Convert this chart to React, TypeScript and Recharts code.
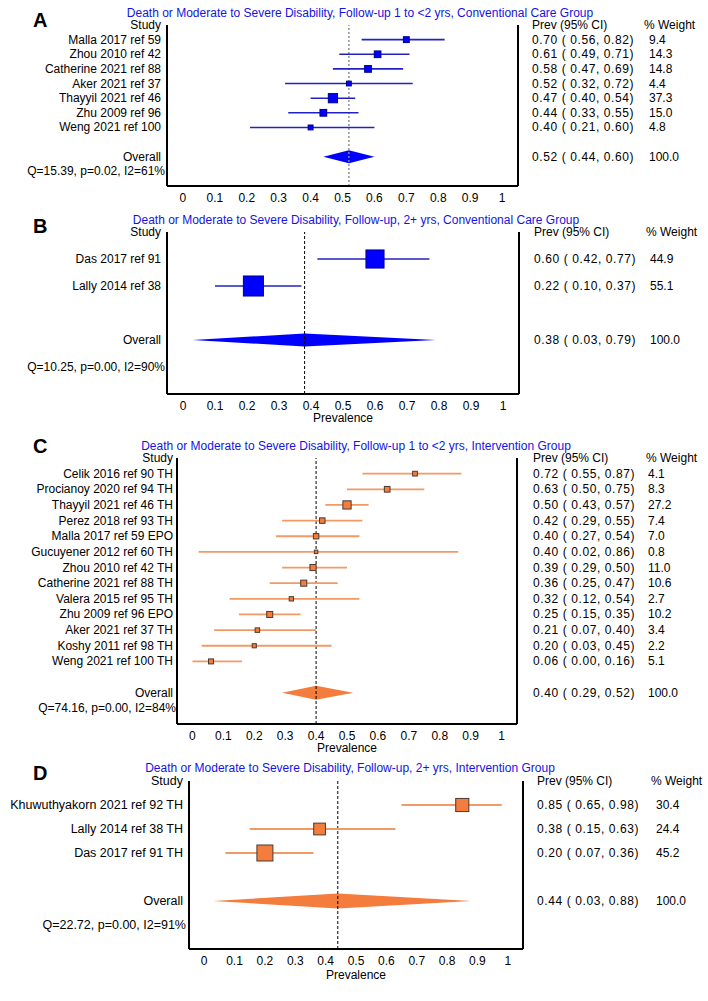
import React from "react";
import { ScatterChart, Scatter, XAxis, YAxis, ReferenceLine, ReferenceArea, ErrorBar } from "recharts";

const FONT = '"Liberation Sans", Arial, Helvetica, sans-serif';

// A: follow-up 1 to <2 yrs, conventional care
const studiesA = ["Malla 2017 ref 59", "Zhou 2010 ref 42", "Catherine 2021 ref 88", "Aker 2021 ref 37", "Thayyil 2021 ref 46", "Zhu 2009 ref 96", "Weng 2021 ref 100"];
const prevA = [0.7, 0.61, 0.58, 0.52, 0.47, 0.44, 0.4];
const loA = [0.56, 0.49, 0.47, 0.32, 0.4, 0.33, 0.21];
const hiA = [0.82, 0.71, 0.69, 0.72, 0.54, 0.55, 0.6];
const weightA = [9.4, 14.3, 14.8, 4.4, 37.3, 15.0, 4.8];
const overallA = [0.52, 0.44, 0.6];
const qA = "Q=15.39, p=0.02, I2=61%";

// B: follow-up 2+ yrs, conventional care
const studiesB = ["Das 2017 ref 91", "Lally 2014 ref 38"];
const prevB = [0.6, 0.22];
const loB = [0.42, 0.1];
const hiB = [0.77, 0.37];
const weightB = [44.9, 55.1];
const overallB = [0.38, 0.03, 0.79];
const qB = "Q=10.25, p=0.00, I2=90%";

// C: follow-up 1 to <2 yrs, intervention
const studiesC = [
  "Celik 2016 ref 90 TH", "Procianoy 2020 ref 94 TH", "Thayyil 2021 ref 46 TH", "Perez 2018 ref 93 TH",
  "Malla 2017 ref 59 EPO", "Gucuyener 2012 ref 60 TH", "Zhou 2010 ref 42 TH", "Catherine 2021 ref 88 TH",
  "Valera 2015 ref 95 TH", "Zhu 2009 ref 96 EPO", "Aker 2021 ref 37 TH", "Koshy 2011 ref 98 TH", "Weng 2021 ref 100 TH",
];
const prevC = [0.72, 0.63, 0.5, 0.42, 0.4, 0.4, 0.39, 0.36, 0.32, 0.25, 0.21, 0.2, 0.06];
const loC = [0.55, 0.5, 0.43, 0.29, 0.27, 0.02, 0.29, 0.25, 0.12, 0.15, 0.07, 0.03, 0.0];
const hiC = [0.87, 0.75, 0.57, 0.55, 0.54, 0.86, 0.5, 0.47, 0.54, 0.35, 0.4, 0.45, 0.16];
const weightC = [4.1, 8.3, 27.2, 7.4, 7.0, 0.8, 11.0, 10.6, 2.7, 10.2, 3.4, 2.2, 5.1];
const overallC = [0.4, 0.29, 0.52];
const qC = "Q=74.16, p=0.00, I2=84%";

// D: follow-up 2+ yrs, intervention
const studiesD = ["Khuwuthyakorn 2021 ref 92 TH", "Lally 2014 ref 38 TH", "Das 2017 ref 91 TH"];
const prevD = [0.85, 0.38, 0.2];
const loD = [0.65, 0.15, 0.07];
const hiD = [0.98, 0.63, 0.36];
const weightD = [30.4, 24.4, 45.2];
const overallD = [0.44, 0.03, 0.88];
const qD = "Q=22.72, p=0.00, I2=91%";

const X_TICKS = [0, 0.1, 0.2, 0.3, 0.4, 0.5, 0.6, 0.7, 0.8, 0.9, 1];

const BLUE = { marker: "#0000ff", edge: "#00008b", ci: "#2222c4", diamond: "#0000ff" };
const ORANGE = { marker: "#f47c3c", edge: "#4a3a34", ci: "#f19a66", diamond: "#f47c3c" };

type Panel = {
  letter: string; title: string; studies: string[]; prev: number[]; lo: number[]; hi: number[];
  weight: number[]; overall: number[]; q: string;
  chartTop: number; plotTop: number; plotBottom: number; chartH: number;
  frameL: number; frameR: number; yMax: number; overallRow: number; qRow: number;
  ciOff: number; wOff: number; hdrWOff: number; labelGap: number; qGap: number;
  xLabel: boolean; labelOffset: number; colors: typeof BLUE; size: (w: number) => number;
  ciWidth: number; dHalf: number; refStroke: string; refDash: string; refWidth: number;
  titleX: number; titleY: number; letterY: number; fs: number;
};

const panels: Panel[] = [
  {
    letter: "A", title: "Death or Moderate to Severe Disability, Follow-up 1 to <2 yrs, Conventional Care Group",
    studies: studiesA, prev: prevA, lo: loA, hi: hiA, weight: weightA, overall: overallA, q: qA,
    chartTop: 0, plotTop: 25, plotBottom: 186, chartH: 208, frameL: 167, frameR: 518,
    yMax: 11, overallRow: 9, qRow: 10, ciOff: 14, wOff: 131, hdrWOff: 126, labelGap: 6, qGap: 2,
    xLabel: false, labelOffset: 0, colors: BLUE, size: (w) => 1.1 * Math.sqrt(w) + 2.5,
    ciWidth: 1.6, dHalf: 6.5, refStroke: "#8a8a8a", refDash: "2 2", refWidth: 1.4,
    titleX: 360, titleY: 13, letterY: 20, fs: 12,
  },
  {
    letter: "B", title: "Death or Moderate to Severe Disability, Follow-up, 2+ yrs, Conventional Care Group",
    studies: studiesB, prev: prevB, lo: loB, hi: hiB, weight: weightB, overall: overallB, q: qB,
    chartTop: 210, plotTop: 232, plotBottom: 394, chartH: 214, frameL: 167, frameR: 519,
    yMax: 6, overallRow: 4, qRow: 5, ciOff: 15, wOff: 131, hdrWOff: 127, labelGap: 6, qGap: 2,
    xLabel: true, labelOffset: 2, colors: BLUE, size: (w) => 2.7 * Math.sqrt(w),
    ciWidth: 1.4, dHalf: 6.5, refStroke: "#000", refDash: "3 2", refWidth: 1,
    titleX: 356, titleY: 220, letterY: 226, fs: 12,
  },
  {
    letter: "C", title: "Death or Moderate to Severe Disability, Follow-up 1 to <2 yrs, Intervention Group",
    studies: studiesC, prev: prevC, lo: loC, hi: hiC, weight: weightC, overall: overallC, q: qC,
    chartTop: 425, plotTop: 458, plotBottom: 724, chartH: 327, frameL: 177, frameR: 517,
    yMax: 17, overallRow: 15, qRow: 16, ciOff: 16, wOff: 131, hdrWOff: 129, labelGap: 4, qGap: 1,
    xLabel: true, labelOffset: 0, colors: ORANGE, size: (w) => 1.1 * Math.sqrt(w) + 2.5,
    ciWidth: 1.8, dHalf: 7, refStroke: "#000", refDash: "3 2", refWidth: 1,
    titleX: 356, titleY: 446, letterY: 446, fs: 12,
  },
  {
    letter: "D", title: "Death or Moderate to Severe Disability, Follow-up, 2+ yrs, Intervention Group",
    studies: studiesD, prev: prevD, lo: loD, hi: hiD, weight: weightD, overall: overallD, q: qD,
    chartTop: 755, plotTop: 781, plotBottom: 949, chartH: 228, frameL: 189, frameR: 523,
    yMax: 7, overallRow: 5, qRow: 6, ciOff: 14, wOff: 133, hdrWOff: 128, labelGap: 6, qGap: 3,
    xLabel: true, labelOffset: 4, colors: ORANGE, size: (w) => 2.38 * Math.sqrt(w),
    ciWidth: 1.8, dHalf: 7.5, refStroke: "#000", refDash: "3 2", refWidth: 1,
    titleX: 350, titleY: 768, letterY: 773, fs: 12.5,
  },
];

const ciText = (e: number, l: number, h: number) => `${e.toFixed(2)} ( ${l.toFixed(2)}, ${h.toFixed(2)})`;

function ForestPanel({ p }: { p: Panel }) {
  const rows = p.studies.map((s, i) => ({
    name: s, x: p.prev[i], row: i + 1, w: p.weight[i],
    err: [p.prev[i] - p.lo[i], p.hi[i] - p.prev[i]],
  }));
  const yTicks = [0, ...rows.map((r) => r.row), p.overallRow, p.qRow];
  const [est, oLo, oHi] = p.overall;

  const leftTick = (props: any) => {
    const { x, y, payload } = props;
    const r = payload.value;
    let text = "";
    let dx = -p.labelGap;
    if (r === 0) text = "Study";
    else if (r <= p.studies.length) text = p.studies[r - 1];
    else if (r === p.overallRow) text = "Overall";
    else if (r === p.qRow) { text = p.q; dx = -p.qGap; }
    return (
      <text x={x + dx} y={y} dy={4} textAnchor="end" fontSize={p.fs} fill="#000" fontFamily={FONT}>{text}</text>
    );
  };

  const rightTick = (props: any) => {
    const { x, y, payload } = props;
    const r = payload.value;
    let a = "";
    let b = "";
    let bx = p.wOff;
    let ls = 0.6;
    if (r === 0) { a = "Prev (95% CI)"; b = "% Weight"; bx = p.hdrWOff; ls = 0; }
    else if (r <= p.studies.length) { a = ciText(p.prev[r - 1], p.lo[r - 1], p.hi[r - 1]); b = p.weight[r - 1].toFixed(1); }
    else if (r === p.overallRow) { a = ciText(est, oLo, oHi); b = "100.0"; }
    return (
      <g>
        <text x={x + p.ciOff} y={y} dy={4} fontSize={12} fill="#000" fontFamily={FONT} letterSpacing={ls} style={{ whiteSpace: "pre" }}>{a}</text>
        <text x={x + bx} y={y} dy={4} fontSize={12} fill="#000" fontFamily={FONT}>{b}</text>
      </g>
    );
  };

  const diamond = (props: any) => {
    const { x, y, width, height } = props;
    const cy = y + height / 2;
    const xe = x + (width * (est - oLo)) / (oHi - oLo);
    return (
      <polygon
        points={`${x},${cy} ${xe},${cy - p.dHalf} ${x + width},${cy} ${xe},${cy + p.dHalf}`}
        fill={p.colors.diamond}
        stroke="none"
      />
    );
  };

  const square = (props: any) => {
    const { cx, cy, payload } = props;
    const s = p.size(payload.w);
    return (
      <rect x={cx - s / 2} y={cy - s / 2} width={s} height={s} fill={p.colors.marker} stroke={p.colors.edge} strokeWidth={1} />
    );
  };

  const xAxisH = p.chartH - (p.plotBottom - p.chartTop);

  return (
    <div style={{ position: "absolute", left: 0, top: p.chartTop, width: 708, height: p.chartH, overflow: "hidden" }}>
      <ScatterChart
        width={708}
        height={p.chartH}
        margin={{ top: p.plotTop - p.chartTop, right: 0, bottom: 0, left: 0 }}
        style={{ fontFamily: FONT }}
      >
        <XAxis
          type="number"
          dataKey="x"
          domain={[-0.05, 1.05]}
          allowDataOverflow
          ticks={X_TICKS}
          interval={0}
          tickFormatter={(v: number) => (v === 0 || v === 1 ? String(v) : v.toFixed(1))}
          tickLine={false}
          tickSize={0}
          tickMargin={7}
          height={xAxisH}
          axisLine={{ stroke: "#000", strokeWidth: 2 }}
          tick={{ fontSize: 12, fill: "#000", fontFamily: FONT }}
          label={p.xLabel ? { value: "Prevalence", position: "insideBottom", offset: p.labelOffset, fontSize: 12, fill: "#000", fontFamily: FONT } : undefined}
        />
        <YAxis
          type="number"
          dataKey="row"
          domain={[0, p.yMax]}
          allowDataOverflow
          reversed
          ticks={yTicks}
          interval={0}
          width={p.frameL}
          tickLine={false}
          tickSize={0}
          tickMargin={0}
          axisLine={{ stroke: "#000", strokeWidth: 2 }}
          tick={leftTick}
        />
        <YAxis
          yAxisId="r"
          orientation="right"
          type="number"
          dataKey="row"
          domain={[0, p.yMax]}
          allowDataOverflow
          reversed
          ticks={yTicks}
          interval={0}
          width={708 - p.frameR}
          tickLine={false}
          tickSize={0}
          tickMargin={0}
          axisLine={{ stroke: "#000", strokeWidth: 2 }}
          tick={rightTick}
        />
        <ReferenceLine x={est} stroke={p.refStroke} strokeDasharray={p.refDash} strokeWidth={p.refWidth} />
        <ReferenceArea
          x1={oLo}
          x2={oHi}
          y1={p.overallRow - 0.3}
          y2={p.overallRow + 0.3}
          shape={diamond}
        />
        <Scatter data={rows} isAnimationActive={false} shape={square}>
          <ErrorBar dataKey="err" direction="x" width={0} stroke={p.colors.ci} strokeWidth={p.ciWidth} />
        </Scatter>
        <Scatter yAxisId="r" data={rows} isAnimationActive={false} shape={() => <g />} />
      </ScatterChart>
    </div>
  );
}

export default function App() {
  return (
    <div style={{ position: "absolute", left: 0, top: 0, width: 708, height: 1001, background: "#fff", fontFamily: FONT }}>
      {panels.map((p) => (
        <React.Fragment key={p.letter}>
          <ForestPanel p={p} />
          <div
            style={{
              position: "absolute", left: p.titleX, top: p.titleY - 6, transform: "translateX(-50%)",
              whiteSpace: "nowrap", fontSize: 12, lineHeight: "12px", color: "#1414e0",
            }}
          >
            {p.title}
          </div>
          <div
            style={{
              position: "absolute", left: 33, top: p.letterY - 12, fontSize: 20, lineHeight: "24px",
              fontWeight: "bold", color: "#000",
            }}
          >
            {p.letter}
          </div>
        </React.Fragment>
      ))}
    </div>
  );
}
